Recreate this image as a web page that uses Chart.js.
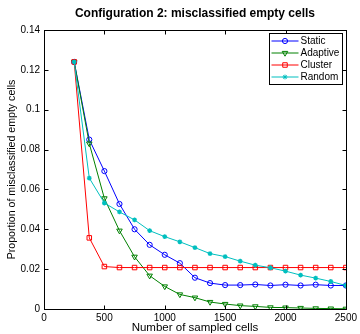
<!DOCTYPE html>
<html>
<head>
<meta charset="utf-8">
<script src="https://cdn.jsdelivr.net/npm/chart.js@4.4.1/dist/chart.umd.min.js"></script>
<style>
  html, body { margin: 0; padding: 0; background: #fff; }
  #wrap { width: 360px; height: 334px; position: relative; }
</style>
</head>
<body>
<div id="wrap"><canvas id="c" width="360" height="334"></canvas></div>
<script>
const sampledCells = [250, 375, 500, 625, 750, 875, 1000, 1125, 1250, 1375, 1500, 1625, 1750, 1875, 2000, 2125, 2250, 2375, 2500];
const staticVals   = [0.124, 0.085, 0.0692, 0.0527, 0.040, 0.0322, 0.0272, 0.023, 0.0157, 0.013, 0.012, 0.012, 0.0123, 0.0118, 0.0122, 0.0118, 0.0122, 0.0118, 0.0118];
const adaptiveVals = [0.124, 0.083, 0.0555, 0.0393, 0.0262, 0.0167, 0.0113, 0.0073, 0.0057, 0.0035, 0.0025, 0.0017, 0.0013, 0.0008, 0.0007, 0.0005, 0.0003, 0.0002, 0.0001];
const clusterVals  = [0.124, 0.0357, 0.0213, 0.0208, 0.0208, 0.0208, 0.0208, 0.0208, 0.0208, 0.0208, 0.0208, 0.0208, 0.0208, 0.0208, 0.0208, 0.0208, 0.0208, 0.0208, 0.0208];
const randomVals   = [0.124, 0.0657, 0.0532, 0.0487, 0.0447, 0.0393, 0.0363, 0.0337, 0.0308, 0.0278, 0.0263, 0.024, 0.022, 0.0207, 0.019, 0.017, 0.0155, 0.0138, 0.0118];
const seriesNames  = ['Static', 'Adaptive', 'Cluster', 'Random'];
const xTicks = [0, 500, 1000, 1500, 2000, 2500];
const yTicks = [0, 0.02, 0.04, 0.06, 0.08, 0.1, 0.12, 0.14];
const chartTitle = 'Configuration 2: misclassified empty cells';

const FONT = "'Liberation Sans', Arial, Helvetica, sans-serif";
const toPts = (vals) => vals.map((v, i) => ({x: sampledCells[i], y: v}));

const styles = [
  {color: '#0000ff', pointStyle: 'circle', radius: 2.6, rotation: 0},
  {color: '#008000', pointStyle: 'triangle', radius: 3.2, rotation: 180},
  {color: '#ff0000', pointStyle: 'rect', radius: 3.2, rotation: 0},
  {color: '#00bfbf', pointStyle: 'star', radius: 2.4, rotation: 0}
];
const allVals = [staticVals, adaptiveVals, clusterVals, randomVals];

const datasets = allVals.map((vals, i) => ({
  label: seriesNames[i],
  data: toPts(vals),
  borderColor: styles[i].color,
  backgroundColor: 'rgba(0,0,0,0)',
  borderWidth: 1,
  pointStyle: styles[i].pointStyle,
  pointRadius: styles[i].radius,
  pointRotation: styles[i].rotation,
  pointBorderColor: styles[i].color,
  pointBackgroundColor: i === 3 ? styles[i].color : 'rgba(0,0,0,0)',
  pointBorderWidth: i === 3 ? 1.3 : 1,
  tension: 0,
  order: 4 - i
}));

const boxPlugin = {
  id: 'boxPlugin',
  afterDatasetsDraw(chart) {
    const {ctx, chartArea: a, scales} = chart;
    ctx.save();
    ctx.strokeStyle = '#000';
    ctx.lineWidth = 1;
    const L = Math.round(a.left) + 0.5, R = Math.round(a.right) + 0.5;
    const T = Math.round(a.top) + 0.5, B = Math.round(a.bottom) + 0.5;
    ctx.strokeRect(L, T, R - L, B - T);
    const tl = 4;
    ctx.beginPath();
    xTicks.forEach(v => {
      const x = Math.round(scales.x.getPixelForValue(v)) + 0.5;
      ctx.moveTo(x, B); ctx.lineTo(x, B - tl);
      ctx.moveTo(x, T); ctx.lineTo(x, T + tl);
    });
    yTicks.forEach(v => {
      const y = Math.round(scales.y.getPixelForValue(v)) + 0.5;
      ctx.moveTo(L, y); ctx.lineTo(L + tl, y);
      ctx.moveTo(R, y); ctx.lineTo(R - tl, y);
    });
    ctx.stroke();

    // title centered over the plot area
    ctx.fillStyle = '#000';
    ctx.font = 'bold 12px ' + FONT;
    ctx.textAlign = 'center';
    ctx.textBaseline = 'middle';
    ctx.fillText(chartTitle, (a.left + a.right) / 2, 14);

    // legend
    const bx = Math.round(a.right) - 76.5, by = Math.round(a.top) + 3.5;
    const bw = 73, bh = 51;
    ctx.fillStyle = '#fff';
    ctx.fillRect(bx, by, bw, bh);
    ctx.strokeStyle = '#000';
    ctx.lineWidth = 1;
    ctx.strokeRect(bx, by, bw, bh);
    ctx.font = '10px ' + FONT;
    ctx.textBaseline = 'middle';
    ctx.textAlign = 'left';
    seriesNames.forEach((name, i) => {
      const y = by + 7.5 + i * 12;
      const x0 = bx + 2, x1 = bx + 29;
      ctx.strokeStyle = styles[i].color;
      ctx.lineWidth = 1;
      ctx.beginPath();
      ctx.moveTo(x0, y); ctx.lineTo(x1, y);
      ctx.stroke();
      ctx.fillStyle = i === 3 ? styles[i].color : 'rgba(0,0,0,0)';
      Chart.helpers.drawPoint(ctx, {
        pointStyle: styles[i].pointStyle,
        radius: styles[i].radius,
        rotation: styles[i].rotation,
        borderWidth: i === 3 ? 1.3 : 1
      }, (x0 + x1) / 2, y);
      ctx.fillStyle = '#000';
      ctx.fillText(name, bx + 31, y + 0.5);
    });
    ctx.restore();
  }
};

new Chart(document.getElementById('c'), {
  type: 'line',
  data: { datasets },
  options: {
    responsive: false,
    animation: false,
    devicePixelRatio: 1,
    layout: { padding: { left: 0, right: 12, top: 30, bottom: 0 } },
    plugins: {
      legend: { display: false },
      tooltip: { enabled: false },
      title: { display: false }
    },
    scales: {
      x: {
        type: 'linear',
        min: 0, max: 2500,
        afterFit(s) { s.height = 25; },
        afterBuildTicks(s) { s.ticks = xTicks.map(v => ({value: v})); },
        grid: { display: false, drawTicks: false },
        border: { display: false },
        ticks: {
          color: '#000', padding: 3, maxRotation: 0,
          font: { family: FONT, size: 10 },
          callback: v => String(v)
        },
        title: {
          display: true, text: 'Number of sampled cells', color: '#000',
          font: { family: FONT, size: 11.5, lineHeight: 1 },
          padding: { top: 0, bottom: 0 }
        }
      },
      y: {
        type: 'linear',
        min: 0, max: 0.14,
        afterFit(s) { s.width = 44; },
        afterBuildTicks(s) { s.ticks = yTicks.map(v => ({value: v})); },
        grid: { display: false, drawTicks: false },
        border: { display: false },
        ticks: {
          color: '#000', padding: 4,
          font: { family: FONT, size: 10 },
          callback: v => String(parseFloat(Number(v).toFixed(2)))
        },
        title: {
          display: true, text: 'Proportion of misclassified empty cells', color: '#000',
          font: { family: FONT, size: 10.6, lineHeight: 1.2 },
          padding: { top: 5.7, bottom: 0 }
        }
      }
    }
  },
  plugins: [boxPlugin]
});
</script>
</body>
</html>
